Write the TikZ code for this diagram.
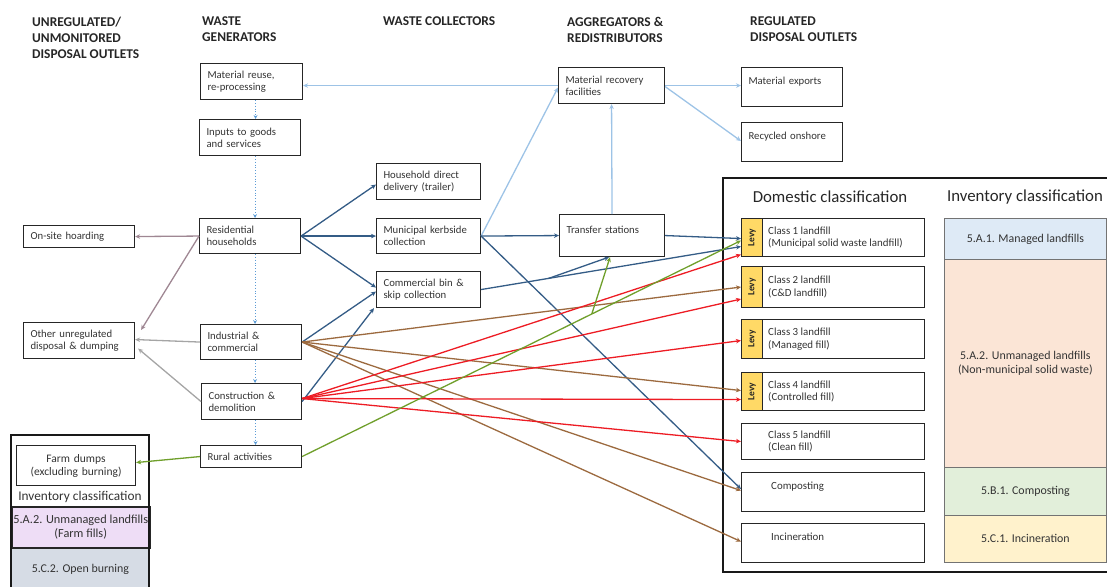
\documentclass[tikz,border=0pt]{standalone}
\usepackage{fontspec}
\setmainfont{Carlito}
\usetikzlibrary{arrows.meta,positioning,calc}

\definecolor{lblue}{HTML}{9DC3E6}
\definecolor{dblue}{HTML}{345C86}
\definecolor{brownln}{HTML}{9C6A3F}
\definecolor{redln}{HTML}{ED1C24}
\definecolor{greenln}{HTML}{6F9F2B}
\definecolor{mauveln}{HTML}{9F8793}
\definecolor{grayln}{HTML}{A5A5A5}
\definecolor{dotblue}{HTML}{5B9BD5}
\definecolor{levyfill}{HTML}{FFD966}
\definecolor{mngfill}{HTML}{DEEAF6}
\definecolor{unmfill}{HTML}{FBE5D6}
\definecolor{compfill}{HTML}{E2EFDA}
\definecolor{incfill}{HTML}{FFF2CC}
\definecolor{lavfill}{HTML}{EEDDF6}
\definecolor{burnfill}{HTML}{D6DCE5}

\tikzset{
  box/.style={draw=black!85, line width=1.1pt, anchor=north west, inner xsep=7pt, inner ysep=0pt,
    align=left, text=black!80, font=\fontsize{10.7}{11.8}\selectfont},
  outlet/.style={draw=black!85, line width=1.1pt, anchor=north west, minimum width=183pt, inner sep=0pt},
  otext/.style={inner xsep=6pt, inner ysep=0pt, align=left, text=black!80, font=\fontsize{10.9}{12.2}\selectfont},
  levy/.style={draw=black!85, line width=1.1pt, fill=levyfill, anchor=north west, minimum width=21pt,
    inner sep=0pt, text=black!85, font=\bfseries\fontsize{9.5}{10}\selectfont},
  inv/.style={draw=black!55, line width=0.8pt, anchor=north west, minimum width=162pt, inner sep=0pt,
    align=center, text=black!80, font=\fontsize{11.9}{14}\selectfont},
  head/.style={anchor=north west, inner sep=0pt, align=left, text=black!85, font=\bfseries\fontsize{13.4}{15.8}\selectfont},
  arr/.style={-{Stealth[length=5pt,width=4.5pt]}, line width=1.3pt},
  dotarr/.style={-{Stealth[length=4pt,width=4pt]}, dotted, line width=0.8pt, dotblue},
}

\begin{document}
\begin{tikzpicture}[x=1pt, y=-1pt]
\useasboundingbox (0,0) rectangle (1107,586);

% column headings
\node[head] (hUnreg) at (32,17) {UNREGULATED/\\UNMONITORED\\DISPOSAL OUTLETS};
\node[head] (hGen) at (202,17) {WASTE\\GENERATORS};
\node[head] (hColl) at (383,17) {WASTE COLLECTORS};
\node[head] (hAgg) at (567,17) {AGGREGATORS \&\\REDISTRIBUTORS};
\node[head] (hReg) at (750,17) {REGULATED\\DISPOSAL OUTLETS};

% waste generators
\node[box, text width=88pt, minimum height=36pt] (reuse) at (200,63) {Material reuse,\\re-processing};
\node[box, text width=87pt, minimum height=36pt] (inputs) at (199,119) {Inputs to goods\\and services};
\node[box, text width=87pt, minimum height=35pt] (res) at (199,218) {Residential\\households};
\node[box, text width=87pt, minimum height=35pt] (ind) at (200,324) {Industrial \&\\commercial};
\node[box, text width=86pt, minimum height=36pt] (cd) at (201,383) {Construction \&\\demolition};
\node[box, text width=87pt, minimum height=22pt] (rural) at (200,445) {Rural activities};

% unregulated outlets
\node[box, text width=97pt, minimum height=22pt] (hoard) at (23,225) {On-site hoarding};
\node[box, text width=97pt, minimum height=36pt] (other) at (23,322) {Other unregulated\\disposal \& dumping};

% collectors
\node[box, text width=90pt, minimum height=36pt] (hdd) at (376,163) {Household direct\\delivery (trailer)};
\node[box, text width=90pt, minimum height=35pt] (kerb) at (376,218) {Municipal kerbside\\collection};
\node[box, text width=90pt, minimum height=36pt] (cbin) at (376,271) {Commercial bin \&\\skip collection};

% aggregators
\node[box, text width=92pt, minimum height=36pt] (mrf) at (558,67) {Material recovery\\facilities};
\node[box, text width=91pt, minimum height=42pt] (transfer) at (559,214) {Transfer stations\\~};

% regulated outlets
\node[box, text width=87pt, minimum height=39pt] (exports) at (741,67) {Material exports\\~};
\node[box, text width=87pt, minimum height=39pt] (onshore) at (741,122) {Recycled onshore\\~};

% domestic / inventory frame
\draw[line width=1.8pt, black!90] (723,178) rectangle (1112,572);
\node[font=\fontsize{16.8}{18}\selectfont, text=black!85] (dom) at (830,197) {Domestic classification};
\node[font=\fontsize{16.8}{18}\selectfont, text=black!85] (invt) at (1025,197) {Inventory classification};

\node[outlet, minimum height=38pt] (c1) at (741,218) {};
\node[outlet, minimum height=41pt] (c2) at (741,266) {};
\node[outlet, minimum height=39pt] (c3) at (741,319) {};
\node[outlet, minimum height=38pt] (c4) at (741,372) {};
\node[outlet, minimum height=36pt] (c5) at (741,423) {};
\node[outlet, minimum height=39pt] (comp) at (741,472) {};
\node[outlet, minimum height=39pt] (inc) at (741,523) {};

\node[levy, minimum height=38pt] (l1) at (c1.north west) {\rotatebox{90}{Levy}};
\node[levy, minimum height=41pt] (l2) at (c2.north west) {\rotatebox{90}{Levy}};
\node[levy, minimum height=39pt] (l3) at (c3.north west) {\rotatebox{90}{Levy}};
\node[levy, minimum height=38pt] (l4) at (c4.north west) {\rotatebox{90}{Levy}};

\node[otext, right=21pt of c1.west] (t1) {Class 1 landfill\\(Municipal solid waste landfill)};
\node[otext, right=21pt of c2.west] (t2) {Class 2 landfill\\(C\&D landfill)};
\node[otext, right=21pt of c3.west] (t3) {Class 3 landfill\\(Managed fill)};
\node[otext, right=21pt of c4.west] (t4) {Class 4 landfill\\(Controlled fill)};
\node[otext, right=21pt of c5.west] (t5) {Class 5 landfill\\(Clean fill)};
\node[otext, right=24pt of comp.west] (t6) {Composting\\~};
\node[otext, right=24pt of inc.west] (t7) {Incineration\\~};

\node[inv, minimum height=41pt, fill=mngfill] (a1) at (944,218) {5.A.1. Managed landfills};
\node[inv, minimum height=208pt, fill=unmfill] (a2) at (944,259) {5.A.2. Unmanaged landfills\\(Non-municipal solid waste)};
\node[inv, minimum height=48pt, fill=compfill] (b1) at (944,467) {5.B.1. Composting};
\node[inv, minimum height=47pt, fill=incfill] (cc1) at (944,515) {5.C.1. Incineration};

% farm dumps panel
\node[inv, minimum width=138pt, minimum height=43pt, fill=burnfill] (burn) at (11,547) {5.C.2. Open burning};
\node[inv, minimum width=138pt, minimum height=41pt, fill=lavfill, draw=black!85, line width=1.5pt,
  font=\fontsize{12.3}{14}\selectfont] (farmfill) at (11,506) {5.A.2. Unmanaged landfills\\(Farm fills)};
\draw[line width=1.8pt, black!90] (11,435) rectangle (149,592);
\node[box, align=center, text width=105pt, minimum height=40pt, font=\fontsize{11.5}{13}\selectfont] (farm) at (16,445)
  {Farm dumps\\(excluding burning)};
\node[text=black!80, font=\fontsize{13.3}{15}\selectfont] (invl) at (80,497) {Inventory classification};

% light blue: recovered material
\draw[arr, lblue] (mrf.west) -- (mrf.west -| reuse.east);
\draw[arr, lblue] (kerb.east) -- ([yshift=-2pt]mrf.west);
\draw[arr, lblue] (transfer.north) -- (mrf.south);
\draw[arr, lblue] (mrf.east) -- (mrf.east -| exports.west);
\draw[arr, lblue] ([yshift=-1pt]mrf.east) -- ([yshift=1pt]onshore.west);

% dark blue: collection
\draw[arr, dblue] (res.east) -- ([yshift=-3pt]hdd.west);
\draw[arr, dblue] (res.east) -- (kerb.west);
\draw[arr, dblue] (res.east) -- ([yshift=2pt]cbin.west);
\draw[arr, dblue] (ind.east) -- ([yshift=-2pt]cbin.west);
\draw[arr, dblue] (cd.east) -- ([xshift=-2pt]cbin.south west);
\draw[arr, dblue] (kerb.east) -- (transfer.west);
\draw[arr, dblue] (transfer.east) -- ([yshift=-1pt]c1.west);
\draw[arr, dblue] (kerb.east) -- ([yshift=3pt]comp.west);
\coordinate (cbr) at ($(cbin.east)!0.26!([yshift=-9pt]c1.west)$);
\draw[arr, dblue] (cbin.east) -- ([yshift=-9pt]c1.west);
\draw[arr, dblue] (cbr) -- ([xshift=-3pt]transfer.south);

% brown: industrial & commercial
\draw[arr, brownln] (ind.east) -- (c2.west);
\draw[arr, brownln] (ind.east) -- ([yshift=1pt]c4.west);
\draw[arr, brownln] (ind.east) -- ([yshift=1.5pt]comp.west);
\draw[arr, brownln] (ind.east) -- ([yshift=1.5pt]inc.west);

% red: construction & demolition
\draw[arr, redln] ([yshift=3pt]cd.east) -- ([yshift=-17pt]c1.west);
\draw[arr, redln] ([yshift=3pt]cd.east) -- ([yshift=-12pt]c2.west);
\draw[arr, redln] ([yshift=3pt]cd.east) -- ([yshift=-1.5pt]c3.west);
\draw[arr, redln] ([yshift=3pt]cd.east) -- ([yshift=-8pt]c4.west);
\draw[arr, redln] ([yshift=3pt]cd.east) -- (c5.west);

% green: rural
\coordinate (gbr) at ($(rural.east)!0.66!([yshift=-3pt]c1.west)$);
\draw[arr, greenln] (rural.east) -- ([yshift=-3pt]c1.west);
\draw[arr, greenln] (gbr) -- ([xshift=-2pt]transfer.south);
\draw[arr, greenln] (rural.west) -- ([yshift=3pt]farm.east);

% unregulated
\draw[arr, mauveln] (res.west) -- (hoard.east);
\draw[arr, mauveln] (res.west) -- ([xshift=6pt,yshift=-8pt]other.north east);
\draw[arr, grayln] (ind.west) -- ([yshift=1pt]other.east);
\draw[arr, grayln] (cd.west) -- ([xshift=3pt,yshift=-8pt]other.east);

% dotted flow down the generators
\draw[dotarr] ([xshift=4pt]reuse.south) -- ([xshift=4pt]reuse.south |- inputs.north);
\draw[dotarr] ([xshift=5pt]inputs.south) -- ([xshift=5pt]inputs.south |- res.north);
\draw[dotarr] ([xshift=5pt]res.south) -- ([xshift=5pt]res.south |- ind.north);
\draw[dotarr] ([xshift=4pt]ind.south) -- ([xshift=4pt]ind.south |- cd.north);
\draw[dotarr] ([xshift=4pt]cd.south) -- ([xshift=4pt]cd.south |- rural.north);
\end{tikzpicture}
\end{document}
